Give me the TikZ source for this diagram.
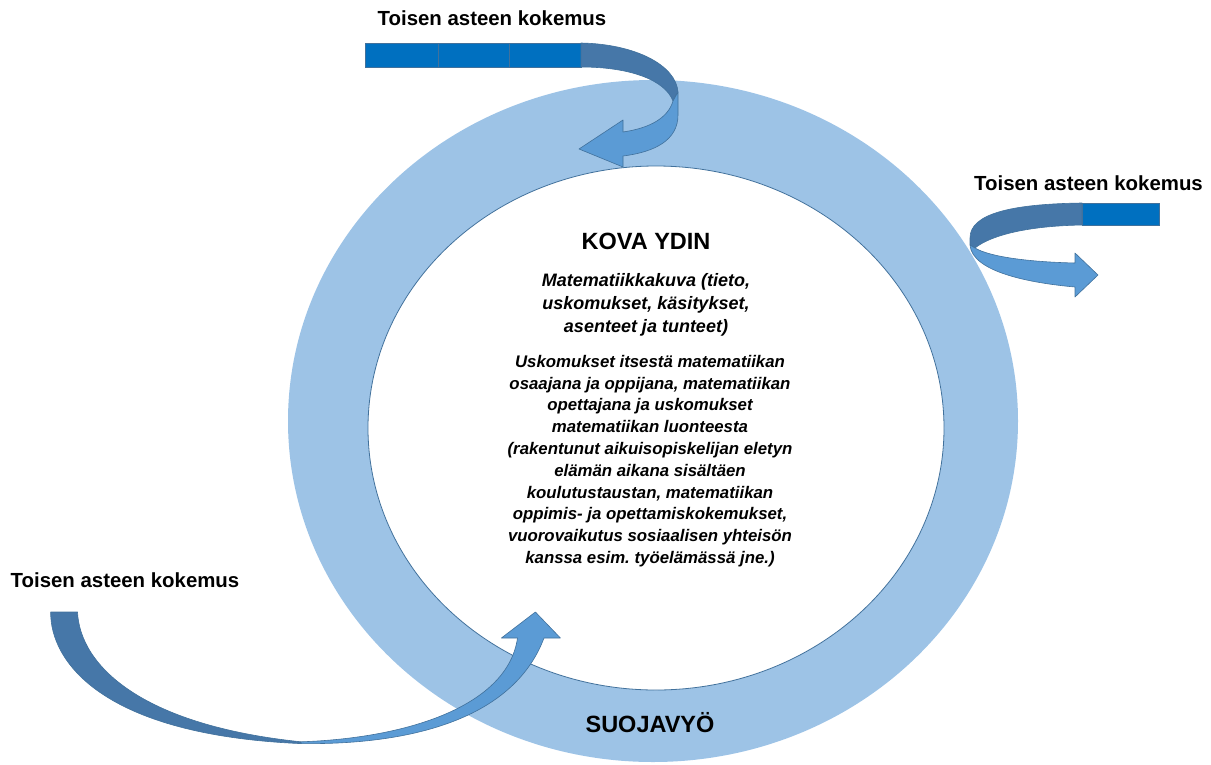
\documentclass[tikz,border=0pt]{standalone}
\usepackage{fontspec}
\setmainfont{Liberation Sans}
\usetikzlibrary{positioning}
\definecolor{ringblue}{HTML}{9DC3E6}
\definecolor{edgeblue}{HTML}{41719C}
\definecolor{backband}{HTML}{4677A8}
\definecolor{frontband}{HTML}{5B9BD5}
\definecolor{barblue}{HTML}{0070C0}
\frenchspacing

\begin{document}
\begin{tikzpicture}[
  x=1pt, y=-1pt,
  back/.style={fill=backband, draw=edgeblue, line width=0.6pt, line join=round},
  front/.style={fill=frontband, draw=edgeblue, line width=0.6pt, line join=round},
  bar/.style={fill=barblue, draw=edgeblue, line width=0.6pt},
  lbl/.style={font=\fontsize{20.4}{24}\selectfont\bfseries, anchor=base, inner sep=0pt},
  title/.style={font=\fontsize{23.5}{28}\selectfont\bfseries, anchor=base, inner sep=0pt},
  core/.style={align=center, inner sep=0pt},
]
  \useasboundingbox (0,0) rectangle (1211,764);

  % Suojavyo --- ring round the hard core
  \fill[ringblue] (653,421) ellipse [x radius=365pt, y radius=341pt];
  \filldraw[fill=white, draw=edgeblue, line width=0.8pt]
    (656,428) ellipse [x radius=288pt, y radius=262pt];

  % Top arrow --- bar, then curl down into the ring
  \foreach \a/\b in {365/438, 438/509, 509/581}
    \draw[bar] (\a,43) rectangle (\b,67);
  \filldraw[back] (581,43) .. controls (635,44) and (676,65) .. (678,92)
    -- (673,101) .. controls (665,80) and (630,67) .. (581,67) -- cycle;
  \filldraw[front] (678,92) -- (678,115) .. controls (678,140) and (655,152) .. (623,156)
    -- (623,167) -- (579,149) -- (623,120) -- (623,132)
    .. controls (650,128) and (668,118) .. (673,101) -- cycle;

  % Right arrow --- bar, loop out of the ring
  \draw[bar] (1082,203) rectangle (1159,225);
  \filldraw[back] (1082,203) .. controls (1010,204) and (970,214) .. (970,238)
    -- (970,245) -- (975,248) .. controls (990,236) and (1025,226) .. (1082,225) -- cycle;
  \filldraw[front] (970,245) .. controls (972,272) and (1030,283) .. (1075,287)
    -- (1075,297) -- (1098,275) -- (1075,253) -- (1075,263)
    .. controls (1030,262) and (990,257) .. (975,248) -- cycle;

  % Bottom left arrow --- swoop up into the ring
  \filldraw[back] (50.7,612) .. controls (50,660) and (100,735) .. (301,743.6)
    -- (301,741.8) .. controls (140,725) and (80,665) .. (77.5,612) -- cycle;
  \filldraw[front] (301,743.6) .. controls (420,745) and (515,715) .. (544,638)
    -- (560.4,638) -- (535.4,612) -- (501.4,638) -- (517.5,638)
    .. controls (508,705) and (410,738) .. (301,741.8) -- cycle;

  % Labels
  \node[lbl] (toptxt) at (492,25.5) {Toisen asteen kokemus};
  \node[lbl] (righttxt) at (1088.5,190.5) {Toisen asteen kokemus};
  \node[lbl] (lefttxt) at (125,587.5) {Toisen asteen kokemus};

  \node[title] (kova) at (646,249.5) {KOVA YDIN};
  \node[core, below=23.4pt of kova, font=\fontsize{18}{23}\selectfont\bfseries\itshape]
    (matkuva) {Matematiikkakuva (tieto,\\uskomukset, käsitykset,\\asenteet ja tunteet)};
  \node[core, below=18.5pt of matkuva, xshift=4pt,
        font=\fontsize{16.8}{21.8}\selectfont\bfseries\itshape] (usko)
    {Uskomukset itsestä matematiikan\\osaajana ja oppijana, matematiikan\\
     opettajana ja uskomukset\\matematiikan luonteesta\\
     (rakentunut aikuisopiskelijan eletyn\\elämän aikana sisältäen\\
     koulutustaustan, matematiikan\\oppimis- ja opettamiskokemukset,\\
     vuorovaikutus sosiaalisen yhteisön\\kanssa esim. työelämässä jne.)};

  \node[title] (suoja) at (650,732) {SUOJAVYÖ};
\end{tikzpicture}
\end{document}
